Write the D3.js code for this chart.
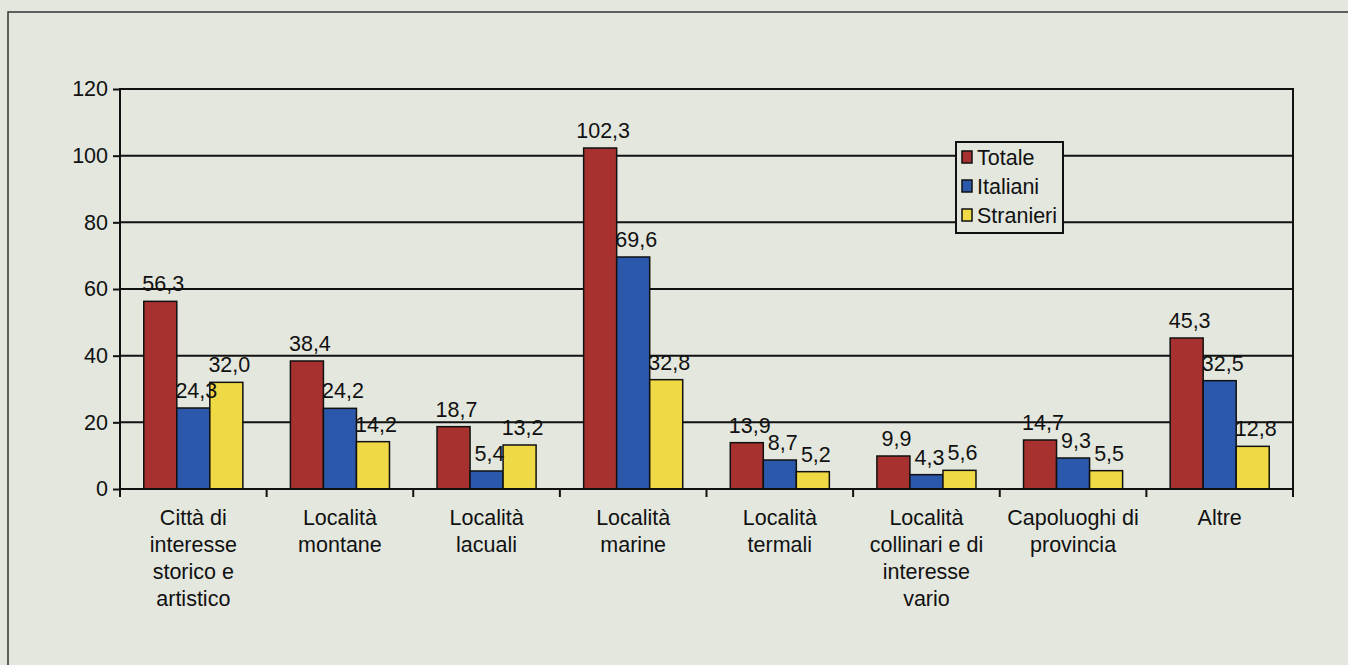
<!DOCTYPE html>
<html>

<head>
    <meta charset="UTF-8">
    <title>Arrivi per tipo di località</title>
    <script src="https://cdn.jsdelivr.net/npm/d3@7/dist/d3.min.js"></script>
    <style>
        body { margin: 0; background: #e3e7de; }
        svg { display: block; font-family: "Liberation Sans", Arial, sans-serif; }
    </style>
</head>

<body>

    <svg class="bar-chart"></svg>

    <script>

        // categories, one entry per line of the label
        var categories = [
            ["Città di", "interesse", "storico e", "artistico"],
            ["Località", "montane"],
            ["Località", "lacuali"],
            ["Località", "marine"],
            ["Località", "termali"],
            ["Località", "collinari e di", "interesse", "vario"],
            ["Capoluoghi di", "provincia"],
            ["Altre"]
        ]

        var series = ["Totale", "Italiani", "Stranieri"]
        var totale = [56.3, 38.4, 18.7, 102.3, 13.9, 9.9, 14.7, 45.3]
        var italiani = [24.3, 24.2, 5.4, 69.6, 8.7, 4.3, 9.3, 32.5]
        var stranieri = [32.0, 14.2, 13.2, 32.8, 5.2, 5.6, 5.5, 12.8]
        var yTicks = [0, 20, 40, 60, 80, 100, 120]

        var colors = ["#a7312e", "#2b58aa", "#efd944"]

        var svgWidth = 1348,
            svgHeight = 665;
        var plot = { left: 120, top: 89, right: 1293, bottom: 489 };
        var fontSize = 21.5;

        var svg = d3.select("svg")
            .attr("width", svgWidth)
            .attr("height", svgHeight);

        // outer frame of the figure
        svg.append("path")
            .attr("d", "M8," + svgHeight + "V12H" + svgWidth)
            .attr("fill", "none")
            .attr("stroke", "#333")
            .attr("stroke-width", 1.5);

        var keys = categories.map(function (d) { return d.join(" ") });
        var values = [totale, italiani, stranieri];

        var x0 = d3.scaleBand()
            .domain(keys)
            .range([plot.left, plot.right])
            .padding(0);

        var x1 = d3.scaleBand()
            .domain(series)
            .range([0, x0.bandwidth()])
            .paddingInner(0)
            .paddingOuter(0.72);

        var y = d3.scaleLinear()
            .domain([0, 120])
            .range([plot.bottom, plot.top]);

        var fmt = function (v) { return d3.format(".1f")(v).replace(".", ",") };

        // gridlines
        svg.append("g")
            .selectAll("line")
            .data(yTicks.filter(function (t) { return t > 0 && t < 120 }))
            .join("line")
            .attr("x1", plot.left)
            .attr("x2", plot.right)
            .attr("y1", function (d) { return y(d) })
            .attr("y2", function (d) { return y(d) })
            .attr("stroke", "#111")
            .attr("stroke-width", 2);

        // bars
        var rows = [];
        keys.forEach(function (k, i) {
            series.forEach(function (s, j) {
                rows.push({ key: k, serie: s, value: values[j][i], color: colors[j] });
            });
        });

        svg.append("g")
            .selectAll("rect")
            .data(rows)
            .join("rect")
            .attr("x", function (d) { return x0(d.key) + x1(d.serie) })
            .attr("y", function (d) { return y(d.value) })
            .attr("width", x1.bandwidth())
            .attr("height", function (d) { return y(0) - y(d.value) })
            .attr("fill", function (d) { return d.color })
            .attr("stroke", "#111")
            .attr("stroke-width", 1.5);

        // value labels
        svg.append("g")
            .selectAll("text")
            .data(rows)
            .join("text")
            .attr("x", function (d) { return x0(d.key) + x1(d.serie) + x1.bandwidth() / 2 + 3 })
            .attr("y", function (d) { return y(d.value) - 10 })
            .attr("text-anchor", "middle")
            .attr("font-size", fontSize)
            .attr("fill", "#111")
            .text(function (d) { return fmt(d.value) });

        // plot frame
        svg.append("rect")
            .attr("x", plot.left)
            .attr("y", plot.top)
            .attr("width", plot.right - plot.left)
            .attr("height", plot.bottom - plot.top)
            .attr("fill", "none")
            .attr("stroke", "#111")
            .attr("stroke-width", 2);

        // y axis
        var yAxis = svg.append("g")
            .attr("transform", "translate(" + plot.left + ",0)")
            .call(d3.axisLeft(y).tickValues(yTicks).tickSize(7).tickSizeOuter(0).tickPadding(5));
        yAxis.select(".domain").remove();
        yAxis.selectAll("line").attr("stroke", "#111").attr("stroke-width", 2);
        yAxis.selectAll("text")
            .attr("font-size", fontSize)
            .attr("font-family", "Liberation Sans, Arial, sans-serif")
            .attr("fill", "#111");

        // x axis: ticks between categories
        var bounds = keys.map(function (k) { return x0(k) }).concat([plot.right]);
        svg.append("g")
            .selectAll("line")
            .data(bounds)
            .join("line")
            .attr("x1", function (d) { return d })
            .attr("x2", function (d) { return d })
            .attr("y1", plot.bottom)
            .attr("y2", plot.bottom + 8)
            .attr("stroke", "#111")
            .attr("stroke-width", 2);

        // category labels
        var catLabel = svg.append("g")
            .selectAll("text")
            .data(categories)
            .join("text")
            .attr("text-anchor", "middle")
            .attr("font-size", fontSize)
            .attr("fill", "#111")
            .attr("transform", function (d, i) {
                return "translate(" + (x0(keys[i]) + x0.bandwidth() / 2) + "," + (plot.bottom + 36) + ")";
            });
        catLabel.selectAll("tspan")
            .data(function (d) { return d })
            .join("tspan")
            .attr("x", 0)
            .attr("y", function (d, i) { return i * 27 })
            .text(function (d) { return d });

        // legend
        var legend = svg.append("g")
            .attr("transform", "translate(956,142)");
        legend.append("rect")
            .attr("width", 107)
            .attr("height", 91)
            .attr("fill", "#e3e7de")
            .attr("stroke", "#111")
            .attr("stroke-width", 2);
        var item = legend.selectAll("g")
            .data(series)
            .join("g")
            .attr("transform", function (d, i) { return "translate(6," + (15 + i * 29) + ")" });
        item.append("rect")
            .attr("x", 0)
            .attr("y", -6)
            .attr("width", 10)
            .attr("height", 12)
            .attr("fill", function (d, i) { return colors[i] })
            .attr("stroke", "#111")
            .attr("stroke-width", 1.5);
        item.append("text")
            .attr("x", 15)
            .attr("y", 8)
            .attr("font-size", fontSize)
            .attr("fill", "#111")
            .text(function (d) { return d });

    </script>

</body>

</html>
